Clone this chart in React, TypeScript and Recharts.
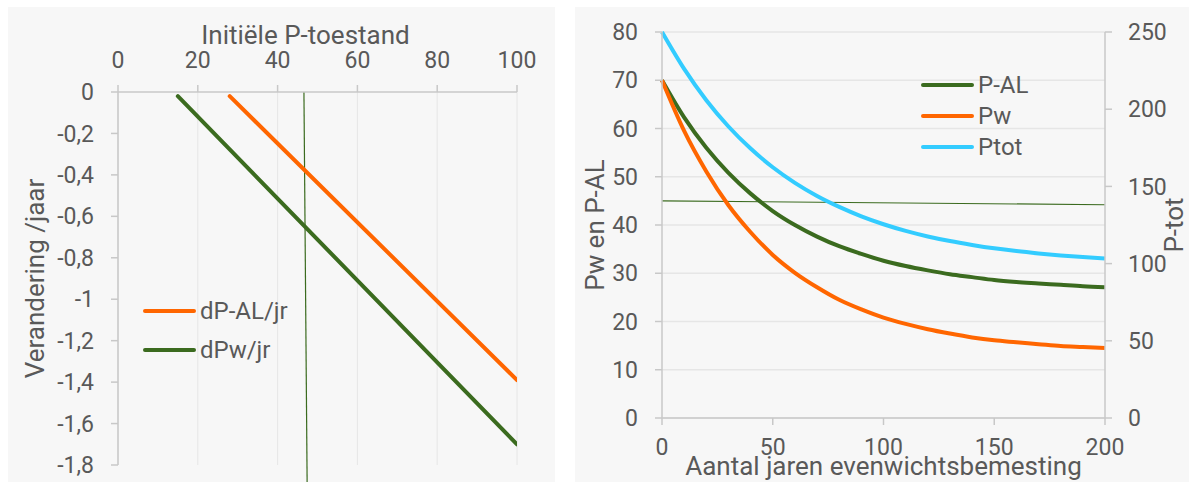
import React from 'react';
import { LineChart, Line, XAxis, YAxis, CartesianGrid, ReferenceLine, Legend, Label } from 'recharts';

const FONT = 'Roboto, "Noto Sans", sans-serif';
const TEXT = '#595959';
const AXIS = '#c8c8c8';
const GRID = '#e6e6e6';
const GREEN = '#3b6b1f';
const ORANGE = '#ff6600';
const CYAN = '#33ccff';
const BG = '#f7f7f7';

// ---- Left chart data ----
const initTicks = [0, 20, 40, 60, 80, 100];
const changeTicks = [0, -0.2, -0.4, -0.6, -0.8, -1, -1.2, -1.4, -1.6, -1.8];
const dPALx = [28, 100];
const dPALy = [-0.02, -1.39];
const dPwx = [15, 100];
const dPwy = [-0.02, -1.7];
const refVx = [46.6, 47.45];
const refVy = [0, -2.0];
const leftLegendOrder = ['dP-AL/jr', 'dPw/jr'];

// ---- Right chart data ----
const years = [0, 10, 20, 30, 40, 50, 60, 70, 80, 90, 100, 110, 120, 130, 140, 150, 160, 170, 180, 190, 200];
const pAL = [70, 62.3, 56.0, 50.8, 46.5, 42.9, 40.0, 37.6, 35.6, 34.0, 32.6, 31.5, 30.6, 29.8, 29.2, 28.6, 28.2, 27.9, 27.6, 27.3, 27.1];
const pW = [70, 59.5, 51.1, 44.1, 38.5, 33.8, 30.1, 27.1, 24.5, 22.5, 20.8, 19.5, 18.4, 17.5, 16.7, 16.1, 15.7, 15.3, 14.9, 14.7, 14.5];
const pTot = [250, 226.1, 205.8, 188.8, 174.5, 162.4, 152.3, 143.8, 136.7, 130.6, 125.5, 121.2, 117.6, 114.6, 112.1, 109.9, 108.1, 106.6, 105.3, 104.2, 103.3];
const yearTicks = [0, 50, 100, 150, 200];
const leftTicks = [0, 10, 20, 30, 40, 50, 60, 70, 80];
const rightTicks = [0, 50, 100, 150, 200, 250];
const refHx = [0, 200];
const refHy = [45, 44.2];
const rightLegendOrder = ['P-AL', 'Pw', 'Ptot'];

const tickStyle = { fill: TEXT, fontSize: 23, fontFamily: FONT };
const titleStyle = { fill: TEXT, fontSize: 26, fontFamily: FONT };

const vTitle = (text: string, dx: number) => (props: any) => {
  const vb = props.viewBox || {};
  const cx = vb.x + dx;
  const cy = vb.y + vb.height / 2;
  return (
    <text x={cx} y={cy} transform={`rotate(-90 ${cx} ${cy})`} textAnchor="middle" dominantBaseline="central" style={titleStyle}>
      {text}
    </text>
  );
};

const hTitle = (text: string, dx: number, dy: number) => (props: any) => {
  const vb = props.viewBox || {};
  const cx = vb.x + vb.width / 2 + dx;
  const cy = vb.y + dy;
  return (
    <text x={cx} y={cy} textAnchor="middle" style={titleStyle}>
      {text}
    </text>
  );
};

const legendContent = (rowH: number, order: string[]) => (props: any) => {
  const items = [...(props.payload || [])].sort((a: any, b: any) => order.indexOf(a.value) - order.indexOf(b.value));
  return (
    <div style={{ fontFamily: FONT, fontSize: 24, color: TEXT }}>
      {items.map((e: any) => (
        <div key={e.value} style={{ display: 'flex', alignItems: 'center', height: rowH, whiteSpace: 'nowrap' }}>
          <span style={{ display: 'inline-block', width: 53, height: 4, background: e.color, borderRadius: 2, marginRight: 4 }} />
          <span>{e.value}</span>
        </div>
      ))}
    </div>
  );
};

const fmtComma = (v: number) => String(v).replace('.', ',');

const dPALData = dPALx.map((x, i) => ({ x, y: dPALy[i] }));
const dPwData = dPwx.map((x, i) => ({ x, y: dPwy[i] }));
const rightData = years.map((t, i) => ({ t, pal: pAL[i], pw: pW[i], ptot: pTot[i] }));

export default function App() {
  return (
    <div style={{ position: 'absolute', left: 0, top: 0, width: 1189, height: 482, background: '#fff', overflow: 'hidden' }}>
      <div style={{ position: 'absolute', left: 8, top: 7, width: 547, height: 475, background: BG }}>
        <LineChart width={547} height={475} margin={{ top: 0, right: 38, bottom: 17, left: 0 }}>
          <CartesianGrid horizontal={false} stroke={GRID} strokeWidth={1} verticalValues={initTicks} />
          <XAxis
            dataKey="x"
            type="number"
            orientation="top"
            domain={[0, 100]}
            ticks={initTicks}
            height={85}
            tick={tickStyle}
            tickSize={7}
            tickMargin={17}
            axisLine={{ stroke: AXIS, strokeWidth: 1.5 }}
            tickLine={{ stroke: AXIS, strokeWidth: 1.5 }}
            allowDataOverflow
          >
            <Label content={hTitle('Initiële P-toestand', -12, 37)} />
          </XAxis>
          <YAxis
            type="number"
            domain={[-1.8, 0]}
            ticks={changeTicks}
            width={110}
            tick={tickStyle}
            tickSize={7}
            tickMargin={17}
            tickFormatter={fmtComma}
            axisLine={{ stroke: AXIS, strokeWidth: 1.5 }}
            tickLine={{ stroke: AXIS, strokeWidth: 1.5 }}
            allowDataOverflow
          >
            <Label content={vTitle('Verandering /jaar', 27)} />
          </YAxis>
          <ReferenceLine
            segment={[{ x: refVx[0], y: refVy[0] }, { x: refVx[1], y: refVy[1] }]}
            stroke={GREEN}
            strokeWidth={1.2}
            ifOverflow="visible"
          />
          <Line data={dPALData} dataKey="y" name="dP-AL/jr" stroke={ORANGE} strokeWidth={4} strokeLinecap="round" dot={false} isAnimationActive={false} />
          <Line data={dPwData} dataKey="y" name="dPw/jr" stroke={GREEN} strokeWidth={4} strokeLinecap="round" dot={false} isAnimationActive={false} />
          <Legend
            layout="vertical"
            align="center"
            verticalAlign="middle"
            content={legendContent(39, leftLegendOrder)}
            wrapperStyle={{ left: 135, top: 284, width: 'auto', height: 'auto' }}
          />
        </LineChart>
      </div>

      <div style={{ position: 'absolute', left: 575, top: 7, width: 614, height: 475, background: BG }}>
        <LineChart width={614} height={475} data={rightData} margin={{ top: 25, right: 0, bottom: 0, left: 0 }}>
          <CartesianGrid vertical={false} stroke={GRID} strokeWidth={1.5} yAxisId="l" horizontalValues={leftTicks} />
          <XAxis
            dataKey="t"
            type="number"
            domain={[0, 200]}
            ticks={yearTicks}
            height={64}
            tick={tickStyle}
            tickSize={7}
            tickMargin={14}
            axisLine={{ stroke: AXIS, strokeWidth: 1.5 }}
            tickLine={{ stroke: AXIS, strokeWidth: 1.5 }}
          >
            <Label content={hTitle('Aantal jaren evenwichtsbemesting', 0, 57)} />
          </XAxis>
          <YAxis
            yAxisId="l"
            type="number"
            domain={[0, 80]}
            ticks={leftTicks}
            width={87}
            tick={tickStyle}
            tickSize={7}
            tickMargin={17}
            axisLine={{ stroke: AXIS, strokeWidth: 1.5 }}
            tickLine={{ stroke: AXIS, strokeWidth: 1.5 }}
          >
            <Label content={vTitle('Pw en P-AL', 20)} />
          </YAxis>
          <YAxis
            yAxisId="r"
            orientation="right"
            type="number"
            domain={[0, 250]}
            ticks={rightTicks}
            width={84}
            tick={tickStyle}
            tickSize={7}
            tickMargin={16}
            axisLine={{ stroke: AXIS, strokeWidth: 1.5 }}
            tickLine={{ stroke: AXIS, strokeWidth: 1.5 }}
          >
            <Label content={vTitle('P-tot', 69)} />
          </YAxis>
          <ReferenceLine
            yAxisId="l"
            segment={[{ x: refHx[0], y: refHy[0] }, { x: refHx[1], y: refHy[1] }]}
            stroke={GREEN}
            strokeWidth={1.2}
            ifOverflow="visible"
          />
          <Line yAxisId="l" type="monotone" dataKey="pal" name="P-AL" stroke={GREEN} strokeWidth={4} dot={false} isAnimationActive={false} />
          <Line yAxisId="l" type="monotone" dataKey="pw" name="Pw" stroke={ORANGE} strokeWidth={4} dot={false} isAnimationActive={false} />
          <Line yAxisId="r" type="monotone" dataKey="ptot" name="Ptot" stroke={CYAN} strokeWidth={4} dot={false} isAnimationActive={false} />
          <Legend
            layout="vertical"
            align="center"
            verticalAlign="middle"
            content={legendContent(31, rightLegendOrder)}
            wrapperStyle={{ left: 346, top: 62, width: 'auto', height: 'auto' }}
          />
        </LineChart>
      </div>
    </div>
  );
}
